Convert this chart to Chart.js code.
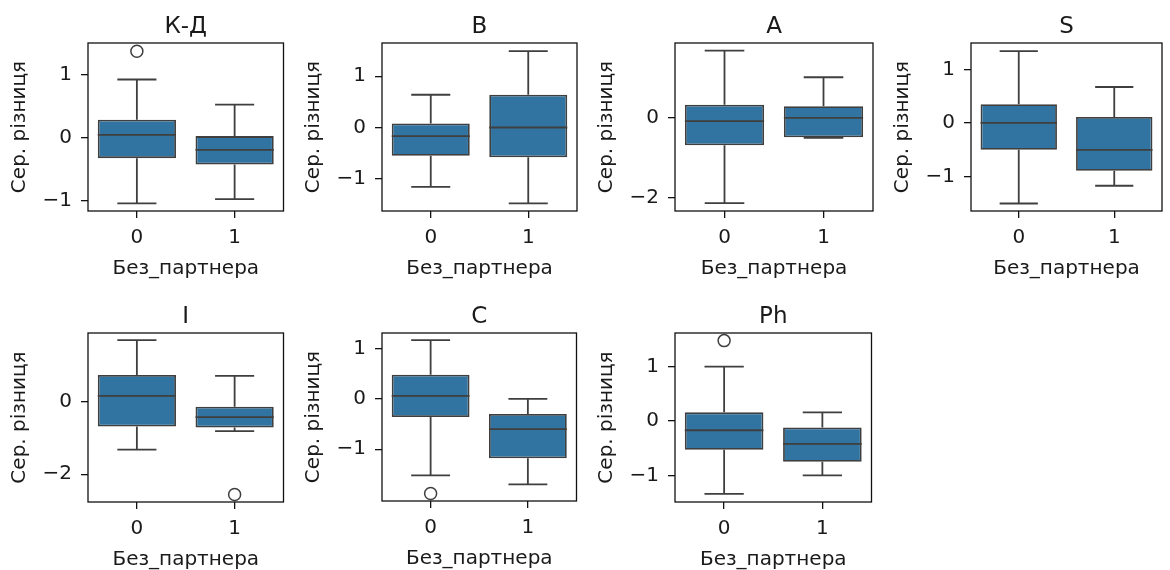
<!DOCTYPE html>
<html><head><meta charset="utf-8">
<script src="https://cdn.jsdelivr.net/npm/chart.js@4.4.1/dist/chart.umd.min.js"></script>
<style>
html,body{margin:0;padding:0;background:#fff;}
#wrap{position:relative;width:1170px;height:570px;overflow:hidden;background:#fff;}
.cell{position:absolute;}
</style></head><body><div id="wrap"></div>
<script>
// ---- data ----
const panelTitles = ['К-Д','B','A','S','I','C','Ph'];
const categories = ['0','1'];
const q1 = [[-0.33,-0.43],[-0.55,-0.58],[-0.69,-0.49],[-0.50,-0.89],[-0.68,-0.71],[-0.36,-1.18],[-0.53,-0.75]];
const medians = [[0.04,-0.20],[-0.17,0.00],[-0.08,0.00],[0.00,-0.50],[0.17,-0.42],[0.06,-0.60],[-0.17,-0.42]];
const q3 = [[0.28,0.02],[0.08,0.64],[0.33,0.29],[0.35,0.11],[0.75,-0.13],[0.48,-0.30],[0.16,-0.12]];
const whiskerLow = [[-1.05,-0.98],[-1.16,-1.48],[-2.14,-0.50],[-1.50,-1.17],[-1.32,-0.81],[-1.52,-1.70],[-1.34,-1.00]];
const whiskerHigh = [[0.92,0.52],[0.64,1.49],[1.69,1.02],[1.34,0.67],[1.71,0.72],[1.17,0.00],[1.00,0.16]];
const outliers = [[{x:'0',y:1.37}],[],[],[],[{x:'1',y:-2.56}],[{x:'0',y:-1.88}],[{x:'0',y:1.48}]];
const yMin = [-1.17,-1.63,-2.34,-1.64,-2.77,-2.03,-1.49];
const yMax = [1.50,1.65,1.88,1.49,1.91,1.31,1.62];
const yTicks = [[-1,0,1],[-1,0,1],[-2,0],[-1,0,1],[-2,0],[-1,0,1],[-1,0,1]];
const xTitle = 'Без_партнера';
const yTitle = 'Сер. різниця';

// ---- layout / style ----
const frames = [[88,285,43,211],[382,577,43,211],[675,873,43,211],[971,1162,43,211],
                [88,285,333,502],[382,578,333,501],[675,873,333,502]];
const L = 88, T = 43, B = 74, R = 6;
const boxColor = '#3274a1';
const lineColor = '#3f3f3f';
const textColor = '#1a1a1a';
const FONT = 'DejaVu Sans';
const FS = 20;
Chart.defaults.font.family = FONT;
Chart.defaults.color = textColor;

const decor = {
  id: 'boxDecor',
  beforeDatasetsDraw(chart) {
    const p = chart.options.plugins.boxDecor.panel;
    const xs = chart.scales.x, ys = chart.scales.y, ctx = chart.ctx;
    const w = xs.getPixelForValue(1) - xs.getPixelForValue(0);
    ctx.save();
    ctx.strokeStyle = lineColor; ctx.lineWidth = 1.8; ctx.lineCap = 'butt';
    categories.forEach((c, i) => {
      const x = xs.getPixelForValue(i);
      const yq1 = ys.getPixelForValue(q1[p][i]), yq3 = ys.getPixelForValue(q3[p][i]);
      const ylo = ys.getPixelForValue(whiskerLow[p][i]), yhi = ys.getPixelForValue(whiskerHigh[p][i]);
      ctx.beginPath();
      ctx.moveTo(x, yq3); ctx.lineTo(x, yhi);
      ctx.moveTo(x, yq1); ctx.lineTo(x, ylo);
      ctx.moveTo(x - 0.2 * w, yhi); ctx.lineTo(x + 0.2 * w, yhi);
      ctx.moveTo(x - 0.2 * w, ylo); ctx.lineTo(x + 0.2 * w, ylo);
      ctx.stroke();
    });
    ctx.restore();
  },
  afterDatasetsDraw(chart) {
    const p = chart.options.plugins.boxDecor.panel;
    const xs = chart.scales.x, ys = chart.scales.y, ctx = chart.ctx;
    const w = xs.getPixelForValue(1) - xs.getPixelForValue(0);
    ctx.save();
    ctx.strokeStyle = lineColor; ctx.lineWidth = 1.8;
    categories.forEach((c, i) => {
      const x = xs.getPixelForValue(i);
      const ym = ys.getPixelForValue(medians[p][i]);
      ctx.beginPath(); ctx.moveTo(x - 0.4 * w, ym); ctx.lineTo(x + 0.4 * w, ym); ctx.stroke();
    });
    ctx.restore();
  },
  afterDraw(chart) {
    const p = chart.options.plugins.boxDecor.panel;
    const a = chart.chartArea, ctx = chart.ctx;
    ctx.save();
    ctx.strokeStyle = '#111'; ctx.lineWidth = 1.3;
    ctx.strokeRect(a.left, a.top, a.right - a.left, a.bottom - a.top);
    ctx.fillStyle = textColor; ctx.font = '23px "' + FONT + '"';
    ctx.textAlign = 'center'; ctx.textBaseline = 'alphabetic';
    ctx.fillText(panelTitles[p], (a.left + a.right) / 2, a.top - 10);
    ctx.restore();
  }
};

const wrap = document.getElementById('wrap');
panelTitles.forEach((title, p) => {
  const f = frames[p];
  const W = (f[1] - f[0]) + L + R, H = (f[3] - f[2]) + T + B;
  const div = document.createElement('div');
  div.className = 'cell';
  div.style.left = (f[0] - L) + 'px'; div.style.top = (f[2] - T) + 'px';
  div.style.width = W + 'px'; div.style.height = H + 'px';
  const cv = document.createElement('canvas');
  cv.width = W; cv.height = H;
  div.appendChild(cv); wrap.appendChild(div);
  new Chart(cv, {
    type: 'bar',
    data: {
      labels: categories,
      datasets: [
        { type: 'bar', data: categories.map((c, i) => [q1[p][i], q3[p][i]]),
          backgroundColor: boxColor, borderColor: lineColor, borderWidth: 1.8, borderSkipped: false,
          barPercentage: 0.8, categoryPercentage: 1.0, order: 2 },
        { type: 'line', data: outliers[p], showLine: false, pointRadius: 6, pointHoverRadius: 6,
          pointBackgroundColor: 'rgba(255,255,255,0)', pointBorderColor: lineColor, pointBorderWidth: 1.5,
          order: 1, clip: false }
      ]
    },
    options: {
      responsive: false, animation: false, devicePixelRatio: 1,
      layout: { padding: { top: T, right: R, left: 0, bottom: 0 } },
      plugins: { legend: { display: false }, tooltip: { enabled: false }, title: { display: false },
                 boxDecor: { panel: p } },
      scales: {
        x: {
          type: 'category', offset: true,
          grid: { display: true, offset: false, drawOnChartArea: false, drawTicks: true, tickLength: 7, color: '#111', lineWidth: 1.3 },
          border: { display: false },
          ticks: { color: textColor, font: { size: FS }, padding: 8, maxRotation: 0 },
          title: { display: true, text: xTitle, color: textColor, font: { size: FS }, padding: { top: 0, bottom: 4 } },
          afterFit(s) { s.height = B; }
        },
        y: {
          min: yMin[p], max: yMax[p],
          grid: { display: true, drawOnChartArea: false, drawTicks: true, tickLength: 7, color: '#111', lineWidth: 1.3 },
          border: { display: false },
          afterBuildTicks(s) { s.ticks = yTicks[p].map(v => ({ value: v })); },
          ticks: { color: textColor, font: { size: FS }, padding: 9,
                   callback: v => (v < 0 ? '\u2212' + Math.abs(v) : String(v)) },
          title: { display: true, text: yTitle, color: textColor, font: { size: FS }, padding: { top: 8, bottom: 0 } },
          afterFit(s) { s.width = L; }
        }
      }
    },
    plugins: [decor]
  });
});
</script>
</body></html>
